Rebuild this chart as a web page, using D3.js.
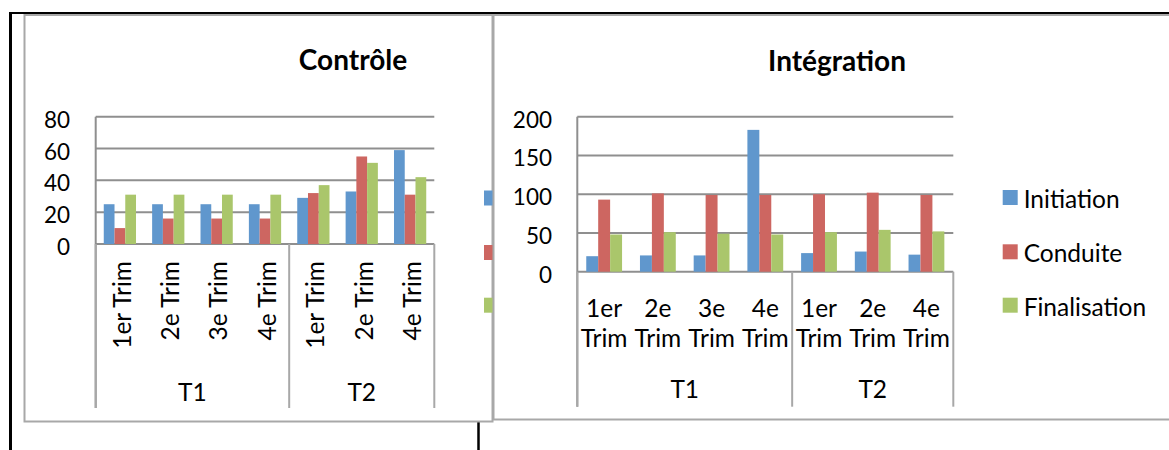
<!DOCTYPE html>
<html>
<head>
<meta charset="utf-8">
<script src="https://cdn.jsdelivr.net/npm/d3@7"></script>
<style>
  html, body { margin: 0; padding: 0; background: #ffffff; }
  svg { display: block; }
  text { font-family: Lato, "Open Sans", sans-serif; fill: #000; }
</style>
</head>
<body>
<svg id="chart" width="1169" height="450"></svg>
<script>
// ---------- data ----------
const categories = ["1er Trim", "2e Trim", "3e Trim", "4e Trim", "1er Trim", "2e Trim", "4e Trim"];
const groupLabels = ["T1", "T2"];
const groupSizes = [4, 3];
const seriesNames = ["Initiation", "Conduite", "Finalisation"];

const controleInitiation   = [25, 25, 25, 25, 29, 33, 59];
const controleConduite     = [10, 16, 16, 16, 32, 55, 31];
const controleFinalisation = [31, 31, 31, 31, 37, 51, 42];

const integrationInitiation   = [20, 21, 21, 183, 24, 26, 22];
const integrationConduite     = [93, 101, 99, 99, 100, 102, 99];
const integrationFinalisation = [48, 51, 49, 48, 51, 54, 52];

const controleTicks = [0, 20, 40, 60, 80];
const integrationTicks = [0, 50, 100, 150, 200];

const colors = ["#6097cd", "#cd6661", "#aac66b"];
const gridColor = "#8f8f8f";
const frameColor = "#a8a8a8";
const labelSize = "24.5px";
const tickSize = "22.5px";

const svg = d3.select("#chart");

// page borders (table lines)
svg.append("line").attr("x1", 9).attr("x2", 1169).attr("y1", 13).attr("y2", 13)
  .attr("stroke", "#000").attr("stroke-width", 2);
svg.append("line").attr("x1", 10.5).attr("x2", 10.5).attr("y1", 12).attr("y2", 450)
  .attr("stroke", "#000").attr("stroke-width", 3);
svg.append("line").attr("x1", 478.5).attr("x2", 478.5).attr("y1", 422).attr("y2", 450)
  .attr("stroke", "#000").attr("stroke-width", 2.5);

function drawChart(cfg) {
  const g = svg.append("g");
  // frame
  g.append("rect").attr("x", cfg.frame[0]).attr("y", cfg.frame[1])
    .attr("width", cfg.frame[2]).attr("height", cfg.frame[3])
    .attr("fill", "#fff").attr("stroke", frameColor).attr("stroke-width", 2);

  const idx = d3.range(categories.length);
  const x = d3.scaleBand().domain(idx).range([cfg.left, cfg.right]).padding(0);
  const xs = d3.scaleBand().domain(seriesNames).range([0, x.bandwidth()])
    .paddingInner(0).paddingOuter(0.75);
  const y = d3.scaleLinear().domain([0, d3.max(cfg.ticks)]).range([cfg.y0, cfg.yTop]);

  // title
  g.append("text").attr("x", cfg.titleX).attr("y", cfg.titleY)
    .attr("text-anchor", "middle").style("font-weight", "bold").style("font-size", "28px")
    .text(cfg.title);

  // gridlines
  g.selectAll("line.grid").data(cfg.ticks).join("line").attr("class", "grid")
    .attr("x1", cfg.left).attr("x2", cfg.right)
    .attr("y1", d => y(d)).attr("y2", d => y(d))
    .attr("stroke", gridColor).attr("stroke-width", 2);

  // y tick labels
  g.selectAll("text.ytick").data(cfg.ticks).join("text").attr("class", "ytick")
    .attr("x", cfg.tickX).attr("y", d => y(d) + 11)
    .attr("text-anchor", "end").style("font-size", tickSize)
    .text(d => d);

  // bars
  cfg.series.forEach((vals, si) => {
    g.selectAll("rect.s" + si).data(vals).join("rect").attr("class", "s" + si)
      .attr("x", (d, i) => x(i) + xs(seriesNames[si]))
      .attr("width", xs.bandwidth())
      .attr("y", d => y(d))
      .attr("height", d => cfg.y0 - y(d))
      .attr("fill", colors[si]);
  });

  // vertical axis line
  g.append("line").attr("x1", cfg.left).attr("x2", cfg.left)
    .attr("y1", cfg.yTop).attr("y2", cfg.catBottom)
    .attr("stroke", gridColor).attr("stroke-width", 2);

  // group dividers
  let acc = 0;
  const bounds = [0];
  groupSizes.forEach(s => { acc += s; bounds.push(acc); });
  bounds.forEach(b => {
    const bx = b === categories.length ? cfg.right : x(b);
    g.append("line").attr("x1", bx).attr("x2", bx)
      .attr("y1", cfg.y0).attr("y2", cfg.catBottom)
      .attr("stroke", frameColor).attr("stroke-width", 2);
  });

  // category labels
  if (cfg.rotated) {
    g.selectAll("text.cat").data(categories).join("text").attr("class", "cat")
      .attr("transform", (d, i) => `translate(${x(i) + x.bandwidth() / 2 + 2},${cfg.catTop}) rotate(-90)`)
      .attr("text-anchor", "end").attr("dy", "0.36em").style("font-size", labelSize)
      .text(d => d);
  } else {
    categories.forEach((c, i) => {
      const parts = c.split(" ");
      const t = g.append("text").attr("text-anchor", "middle").style("font-size", labelSize);
      parts.forEach((p, k) => {
        t.append("tspan").attr("x", x(i) + x.bandwidth() / 2)
          .attr("y", cfg.catLines[k]).text(p);
      });
    });
  }

  // group labels
  groupLabels.forEach((gl, k) => {
    const x0 = x(bounds[k]);
    const x1 = bounds[k + 1] === categories.length ? cfg.right : x(bounds[k + 1]);
    g.append("text").attr("x", (x0 + x1) / 2).attr("y", cfg.groupY)
      .attr("text-anchor", "middle").style("font-size", labelSize).text(gl);
  });

  // legend (the left chart's legend is hidden behind the right chart, only its keys peek out)
  seriesNames.forEach((s, si) => {
    g.append("rect").attr("x", cfg.legX).attr("y", cfg.legY[si])
      .attr("width", 15).attr("height", 15).attr("fill", colors[si]);
    if (cfg.legendText) {
      g.append("text").attr("x", cfg.legX + 21).attr("y", cfg.legY[si] + 18)
        .style("font-size", labelSize).text(s);
    }
  });
}

drawChart({
  frame: [24.5, 15, 468, 406.5],
  title: "Contrôle", titleX: 353, titleY: 70,
  left: 95.7, right: 434.3, yTop: 116.7, y0: 244,
  ticks: controleTicks, tickX: 70,
  series: [controleInitiation, controleConduite, controleFinalisation],
  rotated: true, catTop: 261, catBottom: 408, groupY: 400.5,
  legX: 484, legY: [190.5, 245, 297.7], legendText: false
});

drawChart({
  frame: [493.5, 15, 700, 404.5],
  title: "Intégration", titleX: 837, titleY: 71,
  left: 577.3, right: 953.3, yTop: 116.7, y0: 271.7,
  ticks: integrationTicks, tickX: 552,
  series: [integrationInitiation, integrationConduite, integrationFinalisation],
  rotated: false, catLines: [316.7, 347.3], catBottom: 406.7, groupY: 398.3,
  legX: 1002.7, legY: [190, 244.3, 297.7], legendText: true
});
</script>
</body>
</html>
